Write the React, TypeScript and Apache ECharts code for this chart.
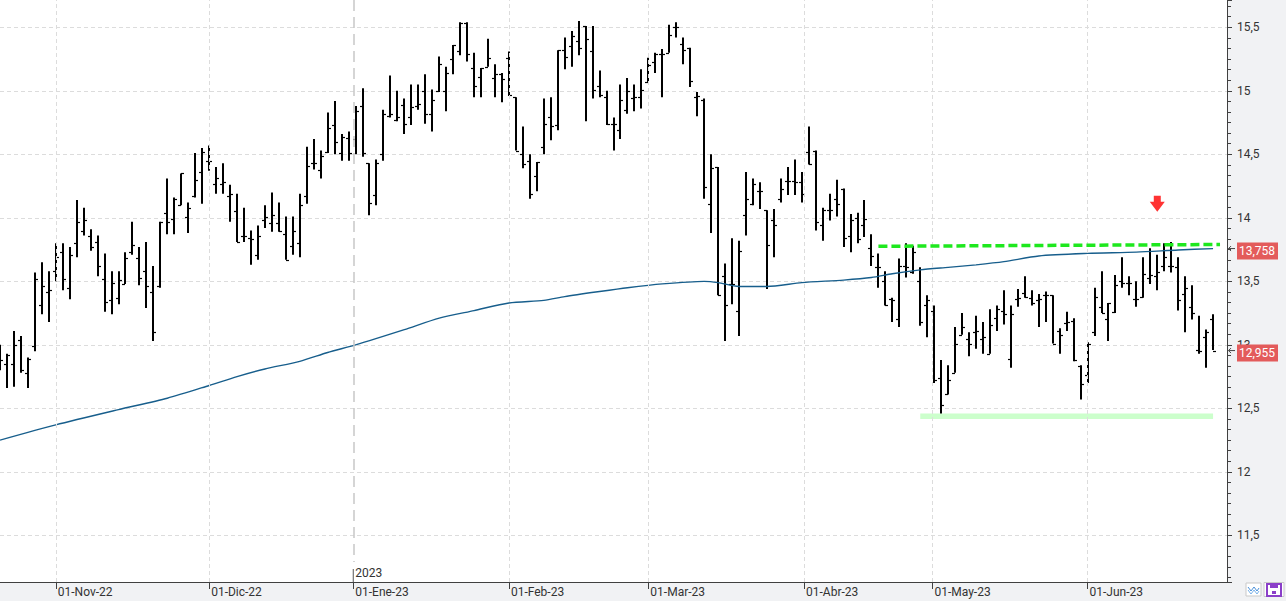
import React, { useEffect, useRef } from 'react';
import * as echarts from 'echarts';

// ---- DATA ----
// trading-day index 0 = 20-Oct-2022 ... 174 = 27-Jun-2023 (axis runs to 176)
const OPEN = [
  12.90, 12.85, 12.85, 13.04, 12.78, 12.99, 13.31, 13.42, 13.58, 13.73,
  13.45, 13.80, 13.90, 13.86, 13.81, 13.52, 13.35, 13.37, 13.48, 13.73,
  13.68, 13.58, 13.42, 13.46, 14.04, 13.99, 14.10, 14.01, 14.17, 14.36,
  14.45, 14.27, 14.27, 14.17, 14.05, 13.86, 13.84, 13.71, 13.98, 13.96,
  13.96, 13.87, 13.78, 13.80, 14.17, 14.43, 14.38, 14.52, 14.73, 14.51,
  14.63, 14.62, 14.88, 14.43, 14.18, 14.50, 14.80, 14.77, 14.89, 14.79,
  14.88, 15.00, 14.82, 15.00, 15.00, 15.25, 15.31, 15.53, 15.18, 15.11,
  15.19, 15.10, 15.13, 15.26, 14.95, 14.50, 14.45, 14.33, 14.56, 14.79,
  14.73, 15.32, 15.35, 15.39, 15.51, 15.31, 15.04, 14.95, 14.74, 14.69,
  14.85, 14.94, 14.95, 15.07, 15.23, 15.29, 15.30, 15.50, 15.37, 15.34,
  14.95, 14.93, 14.11, 14.40, 13.54, 13.48, 13.27, 14.02, 14.11, 14.21,
  14.06, 13.98, 14.15, 14.29, 14.29, 14.28, 14.52, 14.53, 13.94, 14.06,
  14.15, 14.23, 13.86, 14.00, 13.94, 13.76, 13.61, 13.50, 13.36, 13.20,
  13.62, 13.57, 13.50, 13.31, 13.27, 12.74, 12.61, 12.78, 13.08, 13.05,
  13.10, 13.05, 12.93, 13.21, 13.27, 12.89, 13.36, 13.41, 13.37, 13.35,
  13.39, 13.39, 13.11, 13.17, 13.19, 12.83, 12.76, 13.10, 13.30, 13.20,
  13.26, 13.50, 13.49, 13.36, 13.38, 13.53, 13.54, 13.62, 13.62, 13.61,
  13.40, 13.30, 12.96, 13.06, 13.20,
];
const HIGH = [
  13.00, 12.93, 13.11, 13.07, 12.90, 13.57, 13.65, 13.58, 13.80, 13.80,
  13.77, 14.14, 14.08, 13.91, 13.86, 13.72, 13.58, 13.58, 13.73, 13.97,
  13.77, 13.81, 13.62, 13.97, 14.31, 14.16, 14.35, 14.12, 14.51, 14.55,
  14.57, 14.40, 14.43, 14.26, 14.19, 14.08, 13.90, 13.94, 14.10, 14.20,
  14.12, 14.01, 14.01, 14.19, 14.56, 14.62, 14.53, 14.83, 14.92, 14.66,
  14.68, 14.88, 15.02, 14.43, 14.46, 14.85, 15.12, 15.00, 14.94, 15.05,
  15.05, 15.13, 15.01, 15.27, 15.19, 15.36, 15.54, 15.54, 15.30, 15.18,
  15.41, 15.21, 15.14, 15.31, 14.95, 14.72, 14.50, 14.44, 14.94, 14.95,
  15.32, 15.42, 15.47, 15.55, 15.51, 15.51, 15.16, 15.00, 14.79, 15.05,
  15.10, 15.05, 15.17, 15.26, 15.30, 15.33, 15.52, 15.54, 15.42, 15.34,
  14.99, 14.94, 14.50, 14.40, 13.64, 13.84, 13.82, 14.36, 14.31, 14.28,
  14.06, 14.07, 14.31, 14.40, 14.46, 14.36, 14.72, 14.53, 14.08, 14.19,
  14.30, 14.23, 14.03, 14.04, 14.14, 13.87, 13.72, 13.58, 13.37, 13.68,
  13.80, 13.78, 13.61, 13.39, 13.31, 12.88, 12.84, 13.14, 13.25, 13.10,
  13.23, 13.18, 13.28, 13.31, 13.43, 13.31, 13.44, 13.54, 13.43, 13.40,
  13.42, 13.39, 13.13, 13.26, 13.21, 12.84, 13.02, 13.45, 13.58, 13.33,
  13.55, 13.69, 13.54, 13.50, 13.69, 13.76, 13.71, 13.80, 13.81, 13.69,
  13.54, 13.47, 13.23, 13.12, 13.24,
];
const LOW = [
  12.80, 12.66, 12.67, 12.78, 12.66, 12.95, 13.24, 13.18, 13.50, 13.43,
  13.36, 13.69, 13.86, 13.74, 13.54, 13.26, 13.24, 13.32, 13.48, 13.71,
  13.47, 13.29, 13.03, 13.45, 13.87, 13.87, 14.10, 13.88, 14.16, 14.11,
  14.37, 14.19, 14.19, 13.97, 13.81, 13.81, 13.63, 13.67, 13.92, 13.89,
  13.89, 13.67, 13.71, 13.69, 14.11, 14.38, 14.31, 14.51, 14.50, 14.45,
  14.45, 14.50, 14.48, 14.02, 14.10, 14.45, 14.79, 14.76, 14.66, 14.73,
  14.85, 14.74, 14.68, 14.99, 14.84, 15.13, 15.28, 15.23, 14.95, 14.95,
  15.19, 14.95, 14.91, 14.96, 14.53, 14.39, 14.15, 14.21, 14.50, 14.61,
  14.69, 15.17, 15.19, 15.28, 14.76, 14.94, 14.95, 14.73, 14.53, 14.62,
  14.82, 14.84, 14.86, 15.07, 15.14, 14.95, 15.30, 15.42, 15.21, 15.03,
  14.80, 14.15, 13.88, 13.39, 13.03, 13.32, 13.07, 13.86, 14.10, 14.07,
  13.44, 13.69, 14.12, 14.18, 14.18, 14.12, 14.42, 13.90, 13.82, 13.98,
  14.01, 13.77, 13.73, 13.80, 13.85, 13.62, 13.45, 13.31, 13.18, 13.14,
  13.53, 13.56, 13.15, 13.06, 12.70, 12.46, 12.61, 12.78, 13.08, 12.91,
  12.97, 12.93, 12.93, 13.11, 13.16, 12.82, 13.30, 13.37, 13.31, 13.14,
  13.18, 13.01, 12.93, 13.11, 12.87, 12.57, 12.70, 13.07, 13.25, 13.03,
  13.25, 13.45, 13.39, 13.30, 13.37, 13.48, 13.43, 13.58, 13.57, 13.27,
  13.10, 13.20, 12.93, 12.82, 12.96,
];
const CLOSE = [
  12.88, 12.92, 13.00, 12.80, 12.89, 13.52, 13.46, 13.43, 13.69, 13.52,
  13.71, 13.97, 13.98, 13.77, 13.62, 13.34, 13.49, 13.51, 13.68, 13.79,
  13.53, 13.46, 13.10, 13.97, 13.97, 14.15, 14.35, 14.08, 14.30, 14.52,
  14.45, 14.31, 14.28, 14.19, 13.81, 13.86, 13.83, 13.86, 14.01, 14.02,
  13.90, 13.67, 13.90, 14.10, 14.41, 14.43, 14.49, 14.71, 14.60, 14.64,
  14.51, 14.84, 14.51, 14.12, 14.43, 14.82, 14.82, 14.79, 14.74, 14.87,
  14.90, 14.82, 14.93, 15.21, 15.14, 15.36, 15.53, 15.29, 15.04, 15.18,
  15.26, 15.13, 15.09, 14.97, 14.53, 14.42, 14.19, 14.44, 14.74, 14.72,
  15.32, 15.27, 15.43, 15.34, 15.41, 15.01, 14.97, 14.74, 14.74, 14.93,
  15.00, 14.95, 15.01, 15.20, 15.29, 15.29, 15.44, 15.50, 15.32, 15.08,
  14.96, 14.24, 14.39, 13.39, 13.31, 13.48, 13.74, 14.15, 14.27, 14.21,
  13.79, 13.94, 14.23, 14.29, 14.28, 14.19, 14.42, 13.97, 14.06, 14.06,
  14.11, 13.84, 13.98, 13.83, 13.99, 13.70, 13.61, 13.31, 13.35, 13.62,
  13.61, 13.73, 13.18, 13.35, 12.72, 12.53, 12.72, 13.01, 13.14, 13.01,
  13.11, 13.06, 13.16, 13.28, 13.24, 13.24, 13.37, 13.38, 13.33, 13.36,
  13.39, 13.01, 13.08, 13.18, 12.88, 12.69, 13.01, 13.38, 13.25, 13.33,
  13.47, 13.49, 13.49, 13.36, 13.56, 13.55, 13.57, 13.69, 13.62, 13.35,
  13.45, 13.25, 12.95, 13.10, 12.955,
];
// 200-session moving average read at sampled sessions [index, value]
const MA_POINTS = [
  [0, 12.25], [8, 12.37], [17, 12.49], [24, 12.58], [30, 12.68], [34, 12.75],
  [38, 12.81], [43, 12.87], [47, 12.94], [51, 13.0], [58, 13.12], [63, 13.21],
  [68, 13.27], [73, 13.33], [78, 13.35], [81, 13.38], [86, 13.42], [90, 13.45],
  [95, 13.48], [101, 13.5], [103, 13.49], [106, 13.46], [110, 13.46], [115, 13.49],
  [121, 13.51], [125, 13.53], [128, 13.56], [132, 13.59], [136, 13.61], [140, 13.63],
  [144, 13.655], [149, 13.7], [156, 13.72], [163, 13.73], [169, 13.747], [174, 13.758],
];
const RESISTANCE = [[126, 13.776], [175, 13.79]];
const SUPPORT = [[132, 12.438], [174, 12.438]];
const ARROW_POINT = [[166, 14.11]];
const MONTH_POS = [8, 30, 50.67, 73, 93, 115.33, 133.75, 156];
const MONTH_LABELS = ['01-Nov-22', '01-Dic-22', '01-Ene-23', '01-Feb-23', '01-Mar-23', '01-Abr-23', '01-May-23', '01-Jun-23'];
const YEAR_POS = 50.67;
const YEAR_LABEL = '2023';
const LAST_MA = 13.758;
const LAST_CLOSE = 12.955;
const X_MIN = 0;
const X_MAX = 176;
const Y_MIN = 11.133;
const Y_MAX = 15.715;

const FONT = 'Roboto';
const fmt = (v: number) => String(v).replace('.', ',');

export default function App() {
  const ref = useRef<HTMLDivElement>(null);

  useEffect(() => {
    if (!ref.current) return;
    const chart = echarts.init(ref.current, null, { renderer: 'svg' });
    const bars = OPEN.map((o, i) => [i, o, HIGH[i], LOW[i], CLOSE[i]]);
    const gridLines = MONTH_POS.filter((p) => p !== YEAR_POS).map((p) => ({ xAxis: p }));

    chart.setOption({
      animation: false,
      grid: { left: 0, right: 59, top: 0, bottom: 19, show: true, backgroundColor: '#ffffff', borderWidth: 0 },
      xAxis: {
        type: 'value',
        min: X_MIN,
        max: X_MAX,
        axisLine: { show: true, onZero: false, lineStyle: { color: '#404040', width: 1 } },
        axisTick: { show: true, customValues: MONTH_POS, length: 7, lineStyle: { color: '#404040' } },
        axisLabel: {
          customValues: MONTH_POS,
          formatter: (v: number) => {
            const k = MONTH_POS.findIndex((p) => Math.abs(p - v) < 0.01);
            return k >= 0 ? MONTH_LABELS[k] : '';
          },
          align: 'left',
          margin: 4,
          padding: [0, 0, 0, 2],
          color: '#333',
          fontSize: 12,
          fontFamily: FONT,
        },
        splitLine: { show: false },
      },
      yAxis: {
        type: 'value',
        position: 'right',
        min: Y_MIN,
        max: Y_MAX,
        splitNumber: 9,
        axisLine: { show: true, onZero: false, lineStyle: { color: '#404040', width: 1 } },
        axisTick: { show: true, inside: false, length: 5, lineStyle: { color: '#404040' } },
        minorTick: { show: true, splitNumber: 6, length: 4, lineStyle: { color: '#404040' } },
        axisLabel: {
          showMinLabel: false,
          showMaxLabel: false,
          formatter: (v: number) => fmt(v),
          margin: 10,
          color: '#333',
          fontSize: 12,
          fontFamily: FONT,
        },
        splitLine: { show: true, showMinLine: false, showMaxLine: false, lineStyle: { color: '#dcdcdc', type: [4, 3], width: 1 } },
      },
      series: [
        {
          type: 'line',
          data: [],
          z: 1,
          silent: true,
          markLine: {
            silent: true,
            symbol: ['none', 'none'],
            label: { show: false },
            lineStyle: { color: '#dcdcdc', type: [4, 3], width: 1 },
            data: [
              ...gridLines,
              [
                { coord: [YEAR_POS, Y_MAX], lineStyle: { color: '#c8c8c8', type: [11, 6], width: 1.5 } },
                { coord: [YEAR_POS, 11.29] },
              ],
            ],
          },
        },
        {
          type: 'line',
          data: SUPPORT,
          z: 2,
          symbol: 'none',
          silent: true,
          lineStyle: { color: '#ccffcc', width: 5.5 },
        },
        {
          type: 'custom',
          z: 3,
          clip: true,
          data: bars,
          encode: { x: 0, y: [1, 2, 3, 4] },
          renderItem: (_params: any, api: any) => {
            const x = api.value(0);
            const o = api.coord([x, api.value(1)]);
            const h = api.coord([x, api.value(2)]);
            const l = api.coord([x, api.value(3)]);
            const c = api.coord([x, api.value(4)]);
            const cx = Math.round(o[0]);
            const oy = Math.round(o[1]) + 0.5;
            const cy = Math.round(c[1]) + 0.5;
            return {
              type: 'group',
              children: [
                { type: 'line', shape: { x1: cx, y1: h[1], x2: cx, y2: l[1] }, style: { stroke: '#000', lineWidth: 2 } },
                { type: 'line', shape: { x1: cx - 3, y1: oy, x2: cx, y2: oy }, style: { stroke: '#000', lineWidth: 1.2 } },
                { type: 'line', shape: { x1: cx, y1: cy, x2: cx + 3, y2: cy }, style: { stroke: '#000', lineWidth: 1.2 } },
              ],
            };
          },
        },
        {
          type: 'line',
          data: MA_POINTS,
          z: 4,
          symbol: 'none',
          smooth: 0.25,
          silent: true,
          lineStyle: { color: '#175e8c', width: 1.4 },
        },
        {
          type: 'line',
          data: RESISTANCE,
          z: 5,
          symbol: 'none',
          silent: true,
          lineStyle: { color: '#1ee81e', width: 3.5, type: [9, 4] },
        },
        {
          type: 'scatter',
          data: ARROW_POINT,
          z: 6,
          silent: true,
          symbol: 'path://M4,0 L11,0 L11,6 L15,6 L7.5,16 L0,6 L4,6 Z',
          symbolSize: [15, 16],
          itemStyle: { color: '#ff0000' },
        },
      ],
    });

    const gx = (v: number) => chart.convertToPixel({ xAxisIndex: 0 }, v) as number;
    const gy = (v: number) => chart.convertToPixel({ yAxisIndex: 0 }, v) as number;
    const axisX = gx(X_MAX);
    const axisY = gy(Y_MIN);
    const yearX = gx(YEAR_POS);

    const tag = (v: number, text: string) => {
      const y = gy(v);
      return [
        { type: 'rect', z: 50, shape: { x: axisX + 10, y: y - 6, width: 41, height: 17 }, style: { fill: '#e35b5b' } },
        { type: 'text', z: 51, x: axisX + 12, y: y + 2.5, style: { text, fill: '#ffffff', font: `12px ${FONT}`, verticalAlign: 'middle' } },
        { type: 'polyline', z: 51, shape: { points: [[axisX + 4, y - 2.5], [axisX + 1.5, y], [axisX + 4, y + 2.5]] }, style: { stroke: '#444', lineWidth: 1, fill: 'none' } },
        { type: 'line', z: 51, shape: { x1: axisX + 1.5, y1: y, x2: axisX + 8, y2: y }, style: { stroke: '#444', lineWidth: 1 } },
      ];
    };

    chart.setOption({
      graphic: [
        { type: 'line', z: 20, shape: { x1: yearX, y1: axisY - 13, x2: yearX, y2: axisY }, style: { stroke: '#555', lineWidth: 1 } },
        { type: 'text', z: 20, x: yearX + 2, y: axisY - 9, style: { text: YEAR_LABEL, fill: '#333', font: `12px ${FONT}`, verticalAlign: 'middle' } },
        ...tag(LAST_MA, fmt(LAST_MA)),
        ...tag(LAST_CLOSE, fmt(LAST_CLOSE)),
        // bottom-right toolbar icons
        { type: 'rect', z: 20, shape: { x: axisX + 19, y: axisY + 1, width: 15, height: 13 }, style: { fill: '#ffffff', stroke: '#c9c9c9', lineWidth: 1 } },
        { type: 'polyline', z: 21, shape: { points: [[axisX + 21, axisY + 5], [axisX + 24, axisY + 9], [axisX + 27, axisY + 5], [axisX + 30, axisY + 9], [axisX + 32, axisY + 6]] }, style: { stroke: '#4a90d9', lineWidth: 1, fill: 'none' } },
        { type: 'polyline', z: 21, shape: { points: [[axisX + 21, axisY + 8], [axisX + 24, axisY + 12], [axisX + 27, axisY + 8], [axisX + 30, axisY + 12], [axisX + 32, axisY + 9]] }, style: { stroke: '#7ab3ea', lineWidth: 1, fill: 'none' } },
        { type: 'rect', z: 20, shape: { x: axisX + 37, y: axisY + 0.5, width: 20, height: 14 }, style: { fill: '#ffffff', stroke: '#c9c9c9', lineWidth: 1 } },
        { type: 'rect', z: 21, shape: { x: axisX + 40, y: axisY + 2, width: 14, height: 12 }, style: { fill: '#ffffff', stroke: '#8b3fc9', lineWidth: 2 } },
        { type: 'rect', z: 22, shape: { x: axisX + 43, y: axisY + 2, width: 8, height: 4 }, style: { fill: '#8b3fc9' } },
        { type: 'rect', z: 22, shape: { x: axisX + 45, y: axisY + 9, width: 4, height: 3 }, style: { fill: '#8b3fc9' } },
      ],
    });

    return () => chart.dispose();
  }, []);

  return (
    <div
      ref={ref}
      style={{ position: 'fixed', left: 0, top: 0, width: 1286, height: 601, background: '#f1f2f4' }}
    />
  );
}
